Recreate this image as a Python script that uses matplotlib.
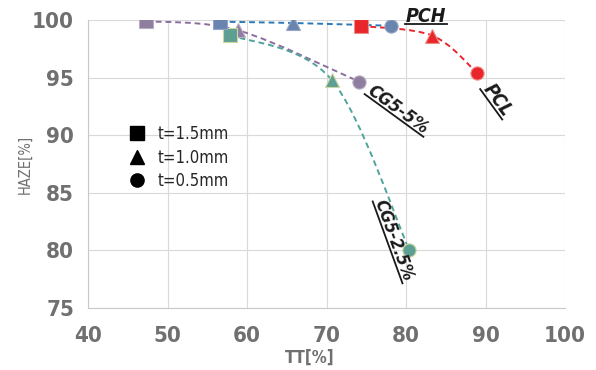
import matplotlib

matplotlib.use("Agg")
import matplotlib.pyplot as plt
import numpy as np
from matplotlib.lines import Line2D
from matplotlib.path import Path
from matplotlib.patches import PathPatch
from matplotlib.transforms import IdentityTransform

# TT[%] and HAZE[%] for t = 1.5 / 1.0 / 0.5 mm
tt_cg5_5 = [47.3, 58.9, 74.1]
haze_cg5_5 = [99.9, 99.1, 94.65]
tt_cg5_25 = [57.9, 70.65, 80.4]
haze_cg5_25 = [98.7, 94.8, 80.05]
tt_pch = [56.6, 65.75, 78.1]
haze_pch = [99.85, 99.74, 99.5]
tt_pcl = [74.3, 83.3, 88.9]
haze_pcl = [99.48, 98.65, 95.43]

thickness_labels = ["t=1.5mm", "t=1.0mm", "t=0.5mm"]
markers = ["s", "^", "o"]
x_ticks = [40, 50, 60, 70, 80, 90, 100]
y_ticks = [75, 80, 85, 90, 95, 100]

FONT = "DejaVu Sans"
TICK_GRAY = "#707070"

series = [
    (tt_cg5_5, haze_cg5_5, "#8c6d9e", "#8f7e9f", "#b9adc2"),
    (tt_cg5_25, haze_cg5_25, "#4ea59a", "#5d9f92", "#cbd6a0"),
    (tt_pch, haze_pch, "#2a79b9", "#6a84b0", "#93a5c4"),
    (tt_pcl, haze_pcl, "#e8262b", "#e8262b", "#f08c86"),
]


def smooth_path(xs, ys):
    # Excel-style smoothed line: cubic Bezier with Catmull-Rom tangents
    pts = np.column_stack([xs, ys])
    n = len(pts)
    verts = [pts[0]]
    codes = [Path.MOVETO]
    for i in range(n - 1):
        p_prev = pts[max(i - 1, 0)]
        p0, p1 = pts[i], pts[i + 1]
        p_next = pts[min(i + 2, n - 1)]
        c1 = p0 + (p1 - p_prev) / 6
        c2 = p1 - (p_next - p0) / 6
        verts += [c1, c2, p1]
        codes += [Path.CURVE4] * 3
    return Path(verts, codes)


fig = plt.figure(figsize=(5.96, 3.70), dpi=100)
ax = fig.add_axes([88 / 596, 1 - 308 / 370, 477 / 596, 288 / 370])

for xs, ys, line_col, face, edge in series:
    ax.add_patch(PathPatch(smooth_path(xs, ys), facecolor="none",
                           edgecolor=line_col, lw=1.4,
                           linestyle=(0, (3, 2)), zorder=2))

for xs, ys, line_col, face, edge in series:
    for xv, yv, m in zip(xs, ys, markers):
        ms = 10 if m == "^" else 9.5
        ax.plot([xv], [yv], marker=m, markersize=ms, color=face,
                markeredgecolor=edge, markeredgewidth=0.8, zorder=3)

ax.set_xlim(40, 100)
ax.set_ylim(75, 100)
ax.set_xticks(x_ticks)
ax.set_yticks(y_ticks)
ax.grid(True, color="#d9d9d9", lw=0.8, zorder=0)
ax.set_axisbelow(True)
for side in ["top", "right"]:
    ax.spines[side].set_visible(False)
for side in ["left", "bottom"]:
    ax.spines[side].set_color("#c8c8c8")
    ax.spines[side].set_linewidth(0.8)
ax.tick_params(length=0, labelcolor=TICK_GRAY)
ax.tick_params(axis="y", pad=10)
ax.tick_params(axis="x", pad=13)
for lab in ax.get_xticklabels() + ax.get_yticklabels():
    lab.set_family(FONT)
    lab.set_fontstretch("condensed")
    lab.set_fontsize(16)
    lab.set_fontweight("bold")

ax.set_xlabel("TT[%]", fontsize=12, fontweight="bold", color=TICK_GRAY,
              family=FONT, fontstretch="condensed", va="top")
ax.xaxis.set_label_coords(0.465, -0.14)
ax.set_ylabel("HAZE[%]", fontsize=10.5, color=TICK_GRAY, family=FONT,
              fontstretch="condensed")
ax.yaxis.set_label_coords(-0.117, 0.497)

handles = [Line2D([], [], marker=m, color="black", linestyle="none",
                  markersize=10 if m == "^" else 9.5) for m in markers]
ax.legend(handles, thickness_labels, loc="center left",
          bbox_to_anchor=(0.086, 0.522), frameon=False,
          borderpad=0, borderaxespad=0,
          handlelength=0.9, handletextpad=0.8, labelspacing=0.33,
          prop={"family": FONT, "stretch": "condensed", "size": 12},
          labelcolor="#262626")

# rotated, underlined curve labels (x, y, text, rotation, size)
labels = [
    (82.5, 100.28, "PCH", 0, 14),
    (91.45, 93.05, "PCL", -54, 13.5),
    (79.0, 92.2, "CG5-5%", -36, 13),
    (78.5, 80.9, "CG5-2.5%", -70, 12.5),
]
fig.canvas.draw()
renderer = fig.canvas.get_renderer()
for x, y, s, rot, size in labels:
    kw = dict(fontsize=size, fontweight="bold", fontstyle="italic",
              family=FONT, fontstretch="condensed", color="#1a1a1a",
              ha="center", va="center", rotation_mode="anchor",
              clip_on=False)
    probe = ax.text(x, y, s, **kw)
    bb = probe.get_window_extent(renderer)
    w, h = bb.width, bb.height
    probe.set_rotation(rot)
    cx, cy = ax.transData.transform((x, y))
    a = np.deg2rad(rot)
    off = 0.3 * h + 1.5
    px = np.array([-w / 2 - 1, w / 2 + 1])
    py = np.array([-off, -off])
    lx = cx + px * np.cos(a) - py * np.sin(a)
    ly = cy + px * np.sin(a) + py * np.cos(a)
    ax.add_line(Line2D(lx, ly, color="#1a1a1a", lw=1.3, clip_on=False,
                       transform=IdentityTransform()))

fig.savefig("out.png", dpi=100)
